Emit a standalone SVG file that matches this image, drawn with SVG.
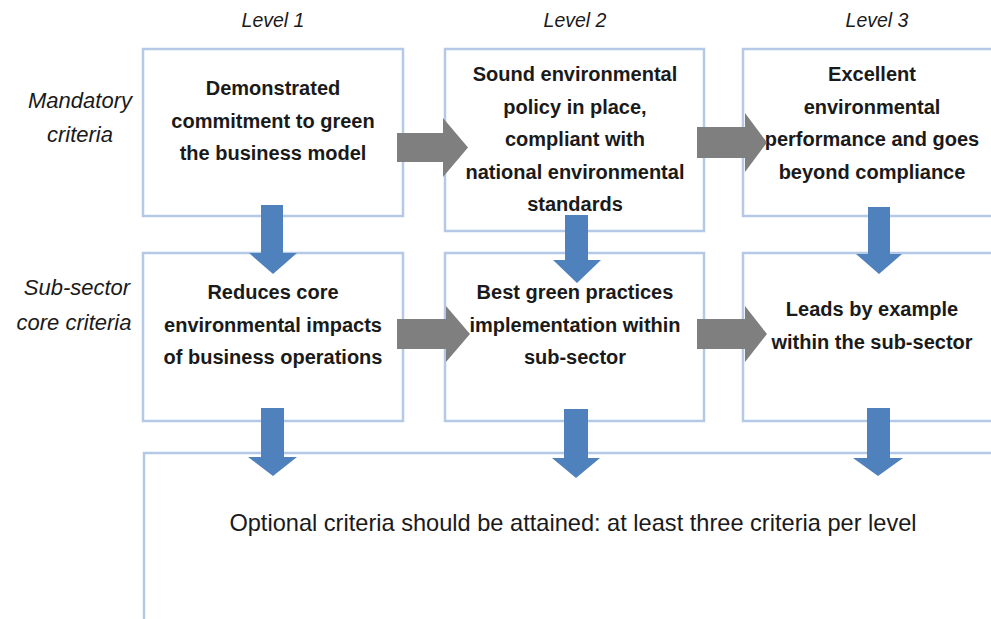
<svg xmlns="http://www.w3.org/2000/svg" width="991" height="619" viewBox="0 0 991 619">
<style>
.box{fill:#ffffff;stroke:#b3c9e6;stroke-width:2.5}
.t{font-family:"Liberation Sans",Arial,sans-serif;font-weight:bold;font-size:20px;fill:#1a1a1a;text-anchor:middle}
.lvl{font-family:"Liberation Sans",Arial,sans-serif;font-style:italic;font-size:19.5px;fill:#1a1a1a;text-anchor:middle}
.side{font-family:"Liberation Sans",Arial,sans-serif;font-style:italic;font-size:22px;fill:#1a1a1a;text-anchor:middle}
.opt{font-family:"Liberation Sans",Arial,sans-serif;font-size:23.6px;fill:#1a1a1a;text-anchor:middle}
.gray{fill:#7f7f7f}
.blue{fill:#4f81bd}
</style>
<rect width="991" height="619" fill="#ffffff"/>
<g id="labels">
<text class="lvl" x="273" y="27">Level 1</text>
<text class="lvl" x="575" y="27">Level 2</text>
<text class="lvl" x="877" y="27">Level 3</text>
<text class="side" x="80" y="108">Mandatory</text>
<text class="side" x="80" y="142">criteria</text>
<text class="side" x="77" y="295">Sub-sector</text>
<text class="side" x="74" y="330">core criteria</text>
</g>
<g id="m1">
<rect class="box" x="143" y="49" width="260" height="167"/>
<text class="t" x="273" y="95">Demonstrated</text>
<text class="t" x="273" y="127.5">commitment to green</text>
<text class="t" x="273" y="160">the business model</text>
</g>
<g id="m2">
<rect class="box" x="445" y="49" width="259" height="182"/>
<text class="t" x="575" y="81">Sound environmental</text>
<text class="t" x="575" y="113.5">policy in place,</text>
<text class="t" x="575" y="146">compliant with</text>
<text class="t" x="575" y="178.5">national environmental</text>
<text class="t" x="575" y="211">standards</text>
</g>
<g id="m3">
<rect class="box" x="743" y="49" width="270" height="167"/>
<text class="t" x="872" y="81">Excellent</text>
<text class="t" x="872" y="113.5">environmental</text>
<text class="t" x="872" y="146">performance and goes</text>
<text class="t" x="872" y="178.5">beyond compliance</text>
</g>
<g id="s1">
<rect class="box" x="143" y="253" width="260" height="168"/>
<text class="t" x="273" y="299">Reduces core</text>
<text class="t" x="273" y="331.5">environmental impacts</text>
<text class="t" x="273" y="364">of business operations</text>
</g>
<g id="s2">
<rect class="box" x="445" y="253" width="259" height="168"/>
<text class="t" x="575" y="299">Best green practices</text>
<text class="t" x="575" y="331.5">implementation within</text>
<text class="t" x="575" y="364">sub-sector</text>
</g>
<g id="s3">
<rect class="box" x="743" y="253" width="270" height="168"/>
<text class="t" x="872" y="316">Leads by example</text>
<text class="t" x="872" y="348.5">within the sub-sector</text>
</g>
<g id="optional">
<rect class="box" x="144" y="453" width="900" height="300"/>
<text class="opt" x="573" y="531">Optional criteria should be attained: at least three criteria per level</text>
</g>
<g id="connectors">
<polygon class="gray" points="397,133 443,133 443,118 468,147.5 443,177 443,162 397,162"/>
<polygon class="gray" points="697,127 745,127 745,113 767,142.5 745,172 745,158 697,158"/>
<polygon class="gray" points="397,319 446,319 446,306 470,334 446,362 446,349 397,349"/>
<polygon class="gray" points="697,319 745,319 745,306 767,334 745,362 745,349 697,349"/>
<polygon class="blue" points="261,205 283,205 283,253 297,253 273,274 249,253 261,253"/>
<polygon class="blue" points="565,215 588,215 588,260 601,260 577,283 553,260 565,260"/>
<polygon class="blue" points="868,207 890,207 890,254 902,254 879,274 856,254 868,254"/>
<polygon class="blue" points="261,408 284,408 284,457 297,457 273,476 248,457 261,457"/>
<polygon class="blue" points="564,409 588,409 588,458 600,458 576,478 552,458 564,458"/>
<polygon class="blue" points="867,408 890,408 890,458 903,458 878,476 853,458 867,458"/>
</g>
</svg>
